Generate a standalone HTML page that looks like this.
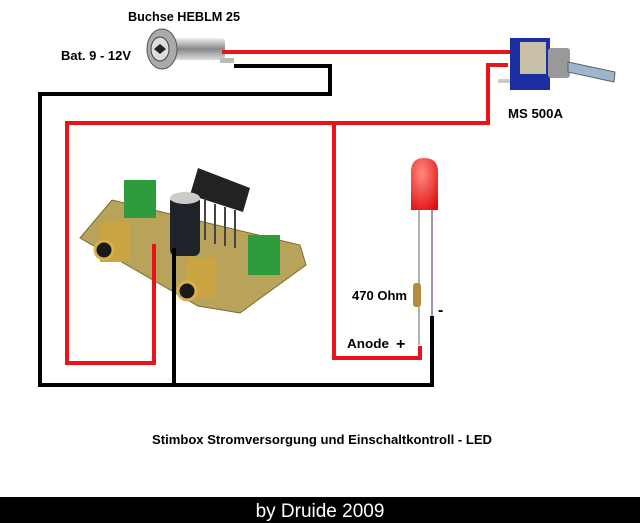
<!DOCTYPE html>
<html><head><meta charset="utf-8"><style>
html,body{margin:0;padding:0;background:#fff;}
svg{display:block}
text{font-family:"Liberation Sans",sans-serif;font-weight:bold;}
</style></head><body>
<svg width="640" height="523" viewBox="0 0 640 523" xmlns="http://www.w3.org/2000/svg">
<defs>
<linearGradient id="met" x1="0" y1="0" x2="0" y2="1"><stop offset="0" stop-color="#eee"/><stop offset=".5" stop-color="#888"/><stop offset="1" stop-color="#ddd"/></linearGradient>
<radialGradient id="led" cx=".4" cy=".3" r=".8"><stop offset="0" stop-color="#ff8a80"/><stop offset="1" stop-color="#e01010"/></radialGradient>
</defs>
<rect width="640" height="523" fill="#fff"/>
<!-- jack -->
<rect x="170" y="38" width="55" height="22" rx="4" fill="url(#met)"/>
<ellipse cx="162" cy="49" rx="15" ry="20" fill="#aaa" stroke="#555"/>
<ellipse cx="160" cy="49" rx="9" ry="12" fill="#ddd" stroke="#444"/>
<path d="M154 49 l6 -5 l6 5 l-6 5z" fill="#222"/>
<rect x="220" y="58" width="14" height="5" fill="#bbb"/>
<!-- switch -->
<rect x="510" y="38" width="40" height="52" fill="#1c2fa0"/>
<rect x="520" y="42" width="26" height="32" fill="#c9c0a8"/>
<rect x="548" y="48" width="22" height="30" fill="#999" rx="3"/>
<path d="M568 62 L615 72 L614 82 L568 72z" fill="#9fb5cc" stroke="#566"/>
<rect x="498" y="79" width="12" height="4" fill="#ccc"/>
<!-- board -->
<polygon points="80,238 112,200 300,245 306,265 240,313 198,306" fill="#b9a35a" stroke="#7a6a30"/>
<rect x="124" y="180" width="32" height="38" fill="#2e9b3c"/>
<rect x="248" y="235" width="32" height="40" fill="#2e9b3c"/>
<polygon points="198,168 250,188 243,212 190,195" fill="#222"/>
<g stroke="#444" stroke-width="2"><line x1="205" y1="200" x2="205" y2="240"/><line x1="215" y1="204" x2="215" y2="244"/><line x1="225" y1="207" x2="225" y2="246"/><line x1="235" y1="210" x2="235" y2="248"/></g>
<rect x="170" y="196" width="30" height="60" rx="6" fill="#1e232a"/>
<ellipse cx="185" cy="198" rx="15" ry="6" fill="#ccc"/>
<rect x="100" y="222" width="30" height="40" fill="#c9a440"/>
<circle cx="104" cy="250" r="9" fill="#1a1a1a" stroke="#d8b050" stroke-width="3"/>
<rect x="186" y="258" width="30" height="40" fill="#c9a440"/>
<circle cx="187" cy="291" r="9" fill="#1a1a1a" stroke="#d8b050" stroke-width="3"/>
<!-- LED -->
<line x1="419" y1="210" x2="419" y2="345" stroke="#999" stroke-width="1.5"/>
<line x1="432" y1="210" x2="432" y2="318" stroke="#8a6a9a" stroke-width="1.5"/>
<rect x="413" y="283" width="8" height="24" rx="3" fill="#b58a3a"/>
<path d="M411 210 L411 172 Q411 158 424 158 Q438 158 438 172 L438 210 Z" fill="url(#led)"/>
<!-- wires -->
<g fill="none" stroke-width="4" stroke-linejoin="miter">
<polyline points="222,52 510,52" stroke="#e8141a"/>
<polyline points="508,65 488,65 488,123 67,123 67,363 154,363 154,244" stroke="#e8141a"/>
<polyline points="334,123 334,358 420,358 420,346" stroke="#e8141a"/>
<polyline points="234,66 330,66 330,94 40,94 40,385 432,385 432,316" stroke="#000"/>
<polyline points="174,248 174,385" stroke="#000"/>
</g>
<!-- labels -->
<text x="128" y="21" font-size="12.5" textLength="112" lengthAdjust="spacingAndGlyphs">Buchse HEBLM 25</text>
<text x="61" y="60" font-size="12.5" textLength="70" lengthAdjust="spacingAndGlyphs">Bat. 9 - 12V</text>
<text x="508" y="118" font-size="12.5" textLength="55" lengthAdjust="spacingAndGlyphs">MS 500A</text>
<text x="352" y="300" font-size="12.5" textLength="55" lengthAdjust="spacingAndGlyphs">470 Ohm</text>
<text x="347" y="348" font-size="12.5" textLength="42" lengthAdjust="spacingAndGlyphs">Anode</text>
<text x="396" y="349" font-size="16">+</text>
<text x="438" y="315" font-size="16">-</text>
<text x="152" y="444" font-size="12.5" textLength="340" lengthAdjust="spacingAndGlyphs">Stimbox Stromversorgung und Einschaltkontroll - LED</text>
<rect x="0" y="497" width="640" height="26" fill="#000"/>
<text x="320" y="517" font-size="19" fill="#fff" text-anchor="middle" style="font-weight:normal">by Druide 2009</text>
</svg>
</body></html>
